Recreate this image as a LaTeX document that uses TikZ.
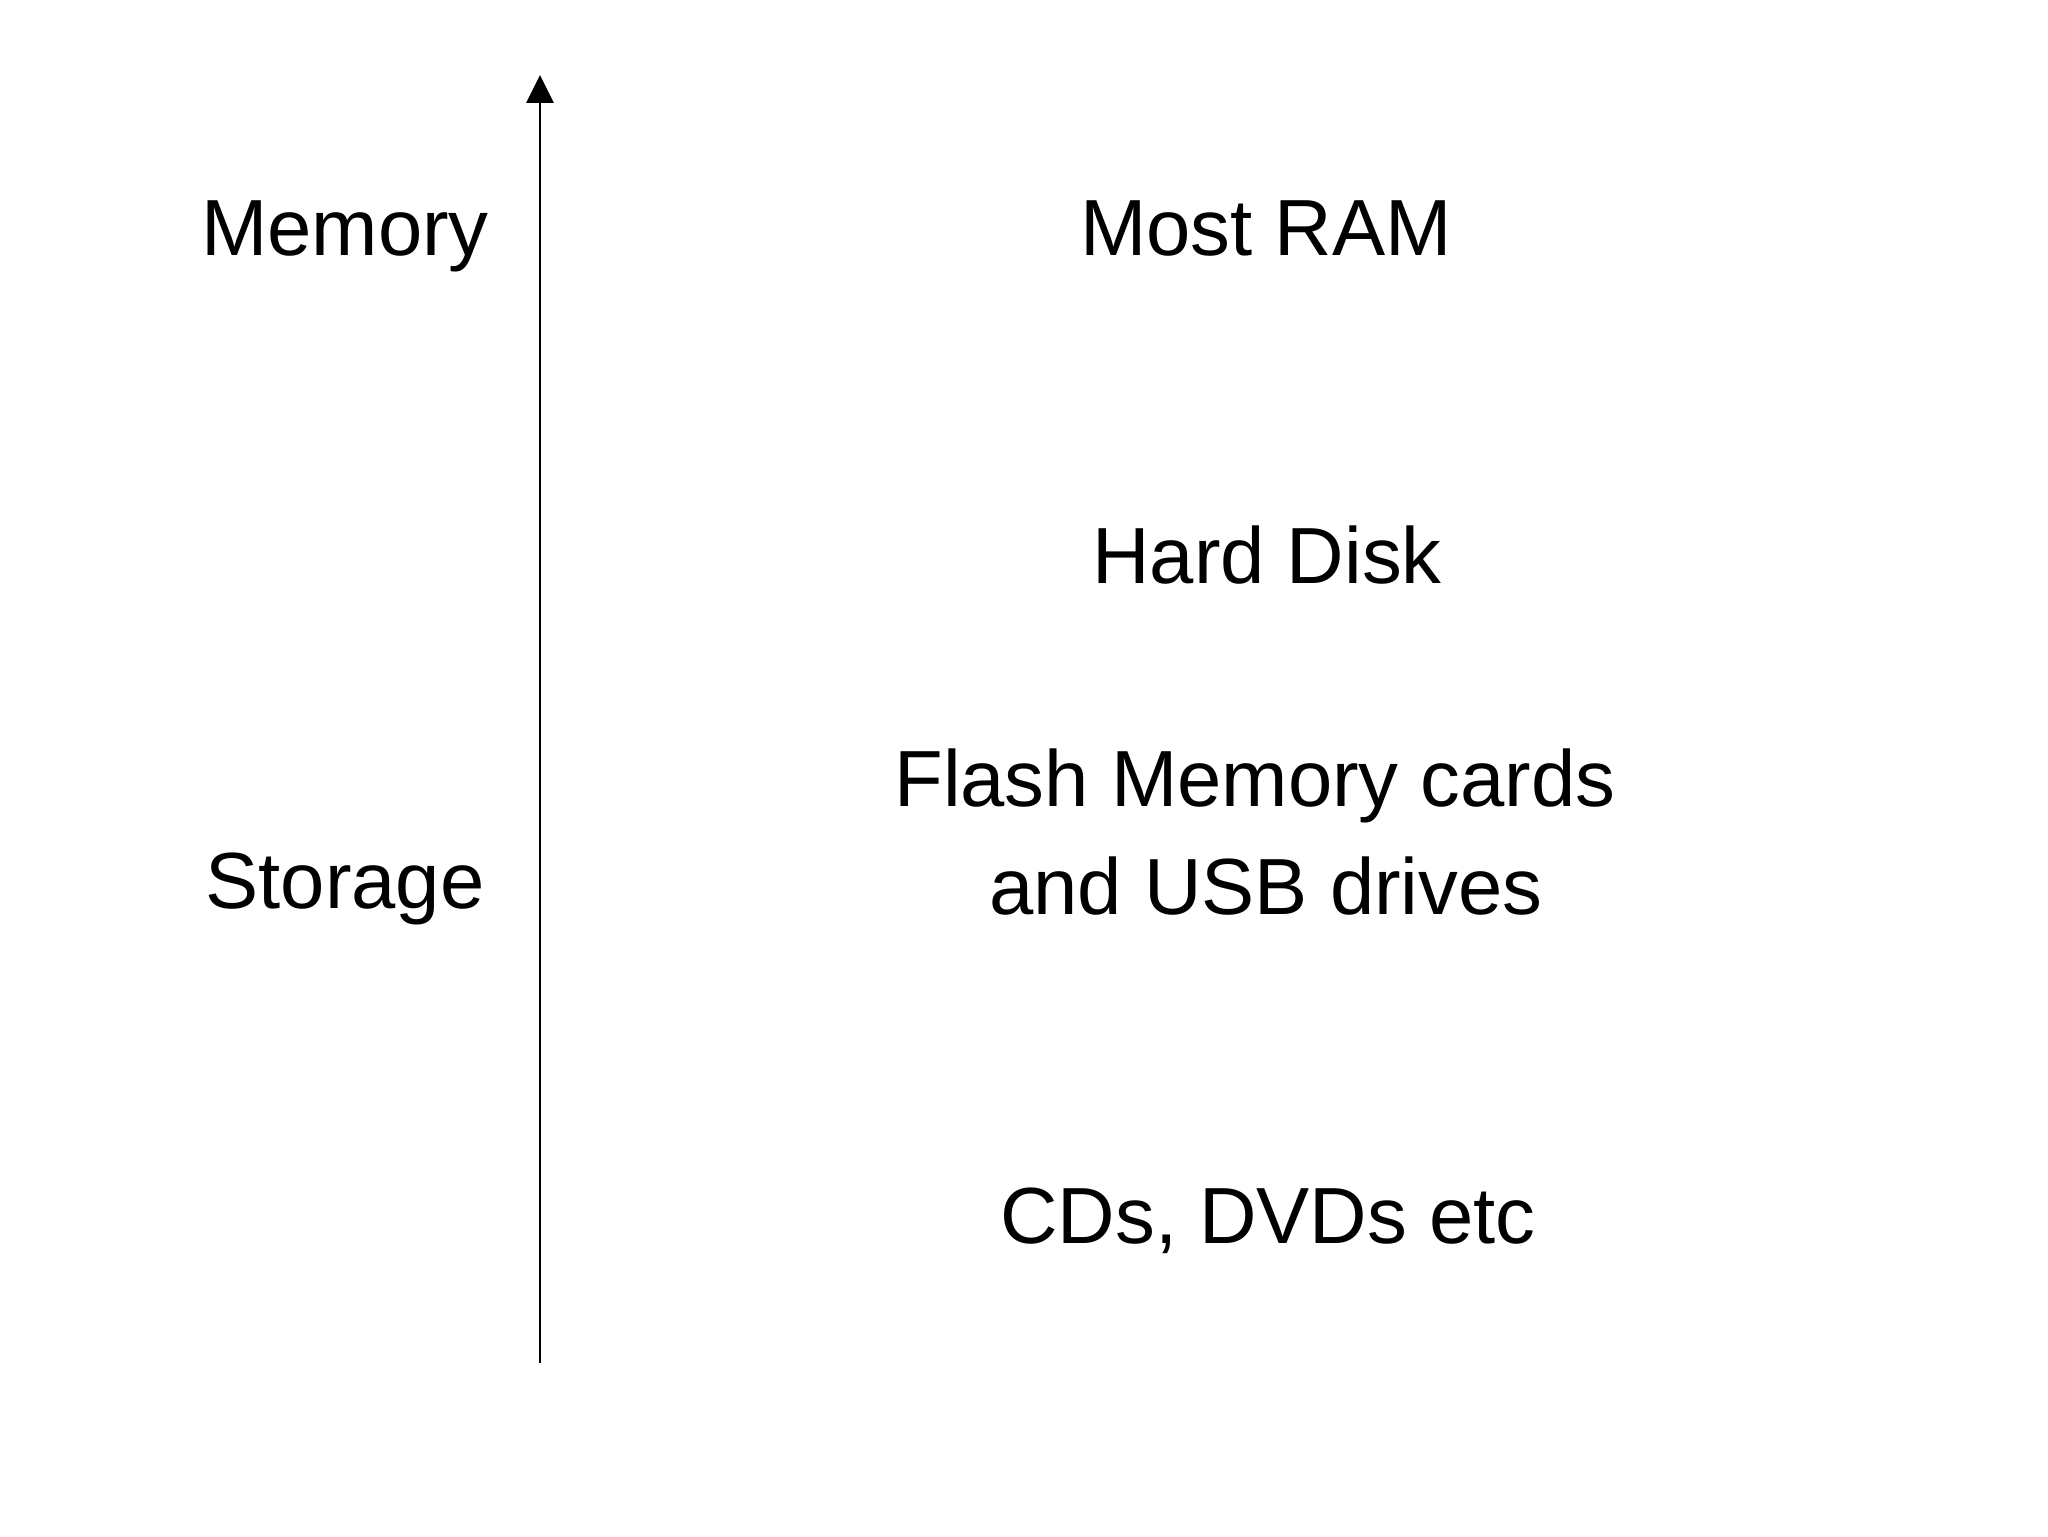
\documentclass[tikz,border=0pt]{standalone}
\usepackage{fontspec}
\setmainfont{Liberation Sans}
\usetikzlibrary{arrows.meta}
\begin{document}
\begin{tikzpicture}[x=0.3516pt,y=-0.3516pt,
  lbl/.style={anchor=base,inner sep=0pt,font=\fontsize{28}{33}\selectfont},
  axis/.style={line width=0.9pt,-{Triangle[width=9.5pt,length=9.8pt]}}]
\useasboundingbox (0,0) rectangle (2048,1536);
\coordinate (bot) at (540,1363);
\coordinate (top) at (540,75);
\draw[axis] (bot) -- (top);
\node[lbl] (mem) at (345,255) {Memory};
\node[lbl] (sto) at (345,908) {Storage};
\node[lbl] (ram) at (1266,255) {Most RAM};
\node[lbl] (hd) at (1267,583) {Hard Disk};
\node[lbl] (fl1) at (1255,806) {Flash Memory cards};
\node[lbl] (fl2) at (1266,914) {and USB drives};
\node[lbl] (cd) at (1268,1243) {CDs, DVDs etc};
\end{tikzpicture}
\end{document}
